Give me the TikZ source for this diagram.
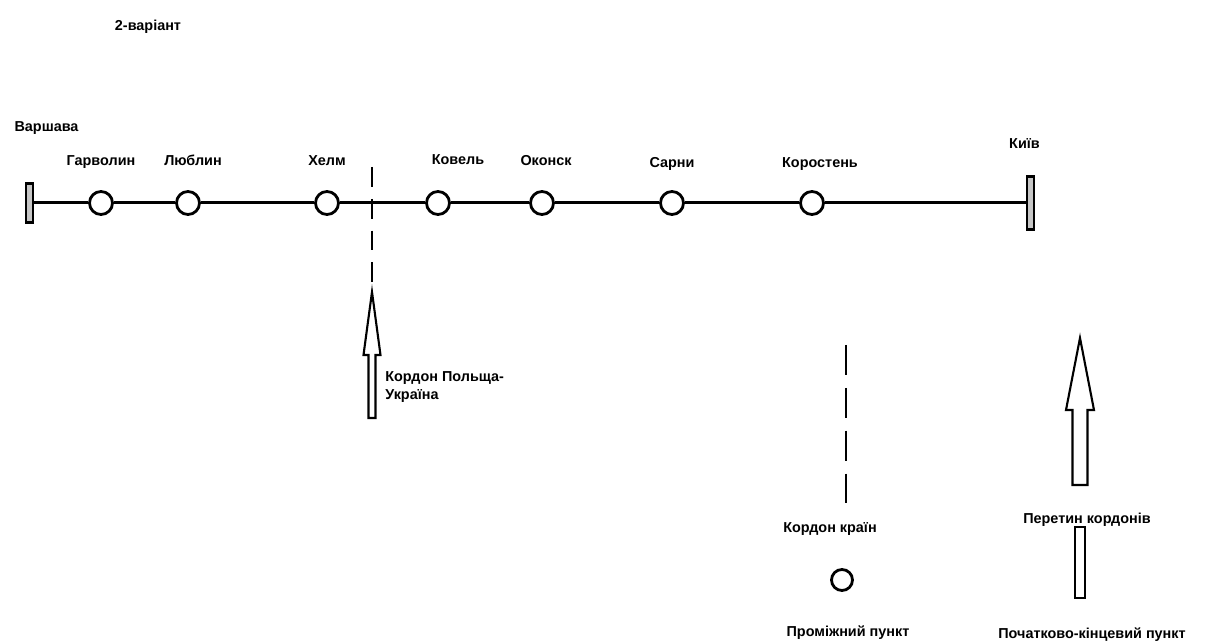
\documentclass[tikz,border=0pt]{standalone}
\usepackage{fontspec}
\setmainfont{Liberation Sans}
\usetikzlibrary{positioning}

\begin{document}
\begin{tikzpicture}[x=0.02cm, y=-0.02cm,
    lbl/.style={font=\bfseries\fontsize{8.2}{10}\selectfont, text height=1.6ex, text depth=0.4ex},
    station/.style={circle, draw, line width=1.6pt, fill=white, minimum size=0.46cm, inner sep=0pt},
    terminal/.style={draw, line width=1.2pt, fill=gray!45, minimum width=0.14cm, inner sep=0pt},
    border/.style={line width=1.7pt},
    blockarrow/.style={draw, line width=1.2pt, fill=white}
]
    \useasboundingbox (0,0) rectangle (1208,644);

    \node[lbl] (title) at (148,25) {2-варіант};

    % line
    \node[terminal, minimum height=0.78cm] (warsaw) at (29.5,203) {};
    \node[terminal, minimum height=1.06cm] (kyiv) at (1030.5,203) {};
    \node[station] (garv) at (101,203) {};
    \node[station] (lubl) at (188,203) {};
    \node[station] (chel) at (327,203) {};
    \node[station] (kovel) at (438,203) {};
    \node[station] (okonsk) at (542,203) {};
    \node[station] (sarny) at (672,203) {};
    \node[station] (korost) at (812,203) {};

    \draw[border] (warsaw) -- (garv) -- (lubl) -- (chel) -- (kovel) -- (okonsk)
        -- (sarny) -- (korost) -- (kyiv);

    % Labels
    \node[lbl, above=0.82cm of warsaw, xshift=0.34cm] (lwarsaw) {Варшава};
    \node[lbl, above=0.3cm of garv] (lgarv) {Гарволин};
    \node[lbl, above=0.3cm of lubl, xshift=0.1cm] (llubl) {Люблин};
    \node[lbl, above=0.3cm of chel] (lchel) {Хелм};
    \node[lbl, above=0.32cm of kovel, xshift=0.4cm] (lkovel) {Ковель};
    \node[lbl, above=0.3cm of okonsk, xshift=0.08cm] (lokonsk) {Оконск};
    \node[lbl, above=0.26cm of sarny] (lsarny) {Сарни};
    \node[lbl, above=0.26cm of korost, xshift=0.16cm] (lkorost) {Коростень};
    \node[lbl, above=0.35cm of kyiv, xshift=-0.12cm] (lkyiv) {Київ};

    % border crossing
    \coordinate (btop) at (372,167);
    \coordinate (btip) at (372,290);
    \draw[border, dash pattern=on 11.3pt off 6.8pt] (btop) -- (btip);
    \draw[blockarrow] (372,292) -- (380.5,355) -- (375.5,355) -- (375.5,418)
        -- (368.5,418) -- (368.5,355) -- (363.5,355) -- cycle;
    \node[lbl, anchor=north west, align=left, inner sep=0pt] (lborder) at (385,384)
        {Кордон Польща-\\Україна};

    % legend
    \coordinate (ltop) at (846,345);
    \coordinate (lbot) at (846,505);
    \draw[border, dash pattern=on 17pt off 7.4pt] (ltop) -- (lbot);
    \node[lbl] (lgborder) at (830,527) {Кордон країн};
    \node[station, minimum size=0.42cm] (lgstation) at (842,580) {};
    \node[lbl] (lgstat) at (848,631) {Проміжний пункт};

    \draw[blockarrow] (1080,338) -- (1094,410) -- (1087.5,410) -- (1087.5,485)
        -- (1072.5,485) -- (1072.5,410) -- (1066,410) -- cycle;
    \node[lbl] (lgcross) at (1087,518) {Перетин кордонів};
    \node[draw, line width=1.2pt, fill=white, minimum width=0.2cm, minimum height=1.42cm,
        inner sep=0pt] (lgterm) at (1080,562.5) {};
    \node[lbl] (lgterminal) at (1092,633) {Початково-кінцевий пункт};
\end{tikzpicture}
\end{document}
